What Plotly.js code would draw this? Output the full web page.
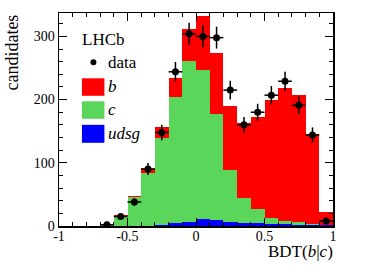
<!DOCTYPE html>
<html><head><meta charset="utf-8">
<script src="https://cdn.plot.ly/plotly-3.0.1.min.js"></script>
<style>html,body{margin:0;padding:0;background:#fff}#chart{width:392px;height:266px}</style>
</head><body><div id="chart"></div>
<script>
// Bin centres of BDT(b|c), bin width 0.1
const binCenters = [-0.95,-0.85,-0.75,-0.65,-0.55,-0.45,-0.35,-0.25,-0.15,-0.05,0.05,0.15,0.25,0.35,0.45,0.55,0.65,0.75,0.85,0.95];
// stacked templates (bottom to top): udsg, c, b
const udsg = [0.4,0.4,0.4,0.4,0.4,0.4,0.5,1.5,4,7,11.5,10,7,5,4,3,2.5,2,1.5,1];
const cVals = [0,0,0,1,16,45,83.5,138.5,200,254,235.5,167,81,40,23,10,5.5,4,1.5,0.5];
const bVals = [0,0,0,0,1,2,8,17,30,51,86,96,102,118,145,187,211,202,142,20];
// data points
const dataX = [-0.65,-0.55,-0.45,-0.35,-0.25,-0.15,-0.05,0.05,0.15,0.25,0.35,0.45,0.55,0.65,0.75,0.85,0.95];
const dataY = [2,15,38,90,148,244,304,300,298,215,160,180,207,229,191,144,8];
const dataErr = [1.4,3.9,6.2,9.5,12.2,15.6,17.4,17.3,17.3,14.7,12.6,13.4,14.4,15.1,13.8,12,2.8];
const xTicks = [-1,-0.5,0,0.5,1];
const xTickLabels = ['-1','-0.5','0','0.5','1'];
const yTicks = [0,100,200,300];

const RED='#ff0000', GREEN='#5ad65a', BLUE='#0000ff';
const font='"Liberation Serif", "Times New Roman", serif';

const traces = [
  {type:'bar', x:binCenters, y:udsg, width:0.1, marker:{color:BLUE, line:{width:0}}, name:'udsg', showlegend:false},
  {type:'bar', x:binCenters, y:cVals, width:0.1, marker:{color:GREEN, line:{width:0}}, name:'c', showlegend:false},
  {type:'bar', x:binCenters, y:bVals, width:0.1, marker:{color:RED, line:{width:0}}, name:'b', showlegend:false},
  {type:'scatter', mode:'markers', x:dataX, y:dataY, name:'data', showlegend:false,
   marker:{color:'black', size:7},
   error_y:{type:'data', array:dataErr, visible:true, color:'black', thickness:1.5, width:0},
   error_x:{type:'constant', value:0.05, visible:true, color:'black', thickness:1.5, width:0}}
];

// paper-coordinate helpers from pixel positions
const L=58.5, R=333, T=12.7, B=225.7;
const px = v => (v-L)/(R-L);
const py = v => (B-v)/(B-T);

const annFont = {family:font, size:17, color:'black'};
const layout = {
  width:392, height:266,
  margin:{l:L, r:392-R, t:T, b:266-B, pad:0},
  paper_bgcolor:'white', plot_bgcolor:'white',
  barmode:'stack', bargap:0, showlegend:false,
  font:{family:font, size:14, color:'black'},
  xaxis:{range:[-1,1], tickvals:xTicks, ticktext:xTickLabels, ticks:'inside', ticklen:8, tickwidth:1, tickcolor:'black',
         showline:true, linecolor:'black', linewidth:1.5, mirror:'allticks', showgrid:false, zeroline:false,
         tickfont:{family:font, size:14}, ticklabelstandoff:-3,
         minor:{dtick:0.1, tick0:0, ticks:'inside', ticklen:4, tickcolor:'black', tickwidth:1, showgrid:false}},
  yaxis:{range:[0,337], tickvals:yTicks, ticks:'inside', ticklen:8, tickwidth:1, tickcolor:'black',
         showline:true, linecolor:'black', linewidth:1.5, mirror:'allticks', showgrid:false, zeroline:false,
         tickfont:{family:font, size:14},
         minor:{dtick:20, tick0:0, ticks:'inside', ticklen:4, tickcolor:'black', tickwidth:1, showgrid:false}},
  annotations:[
    {xref:'paper', yref:'paper', x:px(335), y:py(251), xanchor:'right', yanchor:'middle', showarrow:false,
     text:'BDT(<i>b</i>|<i>c</i>)', font:{family:font, size:17, color:'black'}},
    {xref:'paper', yref:'paper', x:px(11), y:1, xanchor:'center', yanchor:'top', showarrow:false, textangle:-90,
     text:'candidates', font:{family:font, size:18, color:'black'}},
    {xref:'paper', yref:'paper', x:px(80), y:py(39), xanchor:'left', yanchor:'middle', showarrow:false, text:'LHCb', font:annFont},
    {xref:'paper', yref:'paper', x:px(106), y:py(62), xanchor:'left', yanchor:'middle', showarrow:false, text:'data', font:annFont},
    {xref:'paper', yref:'paper', x:px(106), y:py(86), xanchor:'left', yanchor:'middle', showarrow:false, text:'<i>b</i>', font:annFont},
    {xref:'paper', yref:'paper', x:px(106), y:py(109), xanchor:'left', yanchor:'middle', showarrow:false, text:'<i>c</i>', font:annFont},
    {xref:'paper', yref:'paper', x:px(106), y:py(133), xanchor:'left', yanchor:'middle', showarrow:false, text:'<i>udsg</i>', font:annFont}
  ],
  shapes:[
    {type:'circle', xref:'paper', yref:'paper', x0:px(90), x1:px(96), y0:py(65), y1:py(59), fillcolor:'black', line:{width:0}},
    {type:'rect', xref:'paper', yref:'paper', x0:px(81.5), x1:px(104), y0:py(95.5), y1:py(78), fillcolor:RED, line:{width:0}},
    {type:'rect', xref:'paper', yref:'paper', x0:px(81.5), x1:px(104), y0:py(118.5), y1:py(101), fillcolor:GREEN, line:{width:0}},
    {type:'rect', xref:'paper', yref:'paper', x0:px(81.5), x1:px(104), y0:py(142.5), y1:py(124.5), fillcolor:BLUE, line:{width:0}}
  ]
};
Plotly.newPlot('chart', traces, layout, {staticPlot:true, displayModeBar:false});
</script></body></html>
